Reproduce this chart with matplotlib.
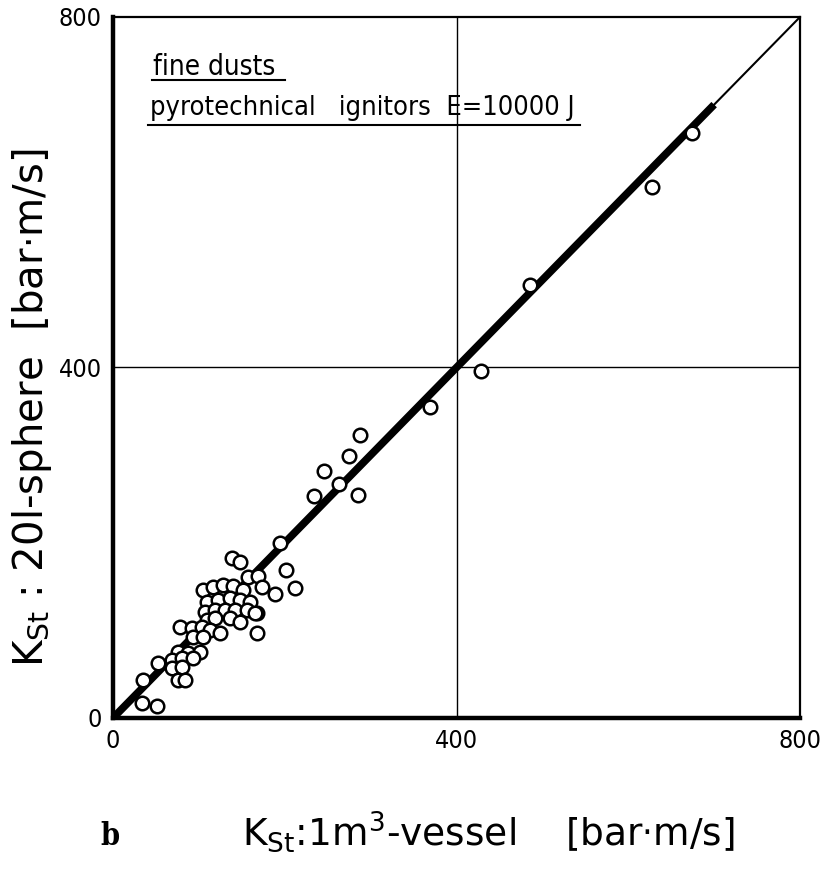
import matplotlib
matplotlib.use('Agg')
import matplotlib.pyplot as plt

# K_St values of the fine dusts: 1 m^3 vessel (x) vs 20 l sphere (y), bar*m/s
kst_1m3 = [674, 628, 486, 428, 369, 288, 275, 246, 263, 285, 234,
           195, 201, 212, 189, 139, 148, 157, 169, 174, 168, 168,
           105, 116, 128, 140, 151, 109, 122, 136, 148, 160,
           107, 119, 130, 142, 156, 165, 109, 119, 136, 148,
           78, 92, 104, 113, 125, 93, 105,
           76, 87, 101, 69, 80, 93, 52, 69, 80, 76, 84, 35, 34, 51]
kst_20l = [668, 606, 494, 396, 355, 323, 299, 282, 267, 254, 253,
           200, 169, 148, 142, 183, 178, 161, 162, 150, 120, 97,
           146, 150, 152, 151, 146, 132, 135, 137, 135, 132,
           121, 123, 123, 123, 123, 120, 112, 114, 114, 110,
           104, 103, 104, 100, 97, 92, 92,
           75, 74, 75, 66, 68, 68, 63, 57, 58, 43, 43, 43, 17, 14]

ticks = [0, 400, 800]

plt.rcParams['font.family'] = 'DejaVu Sans'
plt.rcParams['font.stretch'] = 'condensed'

fig = plt.figure(figsize=(8.33, 8.76), dpi=100)
ax = fig.add_axes([0.1357, 0.1804, 0.8247, 0.8002])

# 1:1 line, drawn heavy up to 700 then thin to the corner
ax.plot([0, 700], [0, 700], color='black', lw=5.5, solid_capstyle='butt', zorder=3)
ax.plot([700, 800], [700, 800], color='black', lw=1.5, zorder=3)

ax.scatter(kst_1m3, kst_20l, s=95, facecolors='white', edgecolors='black',
           linewidths=1.8, zorder=4)

ax.axvline(400, color='black', lw=1.0, zorder=1)
ax.axhline(400, color='black', lw=1.0, zorder=1)

ax.set_xlim(0, 800)
ax.set_ylim(0, 800)
ax.set_xticks(ticks)
ax.set_yticks(ticks)
ax.tick_params(length=0, labelsize=18, pad=8)
for sp in ['left', 'bottom']:
    ax.spines[sp].set_linewidth(3.2)
for sp in ['top', 'right']:
    ax.spines[sp].set_linewidth(1.6)

# title block in the upper left corner
ax.text(47, 734, 'fine dusts', fontsize=20)
ax.plot([45, 200], [728, 728], color='black', lw=1.5)
ax.text(43, 688, 'pyrotechnical   ignitors  E=10000 J', fontsize=19.5)
ax.plot([41, 544], [677, 677], color='black', lw=1.5)

fig.text(0.038, 0.535, r'K$\mathregular{_{St}}$ : 20l-sphere  [bar$\cdot$m/s]',
         fontsize=29, fontstretch='normal', rotation=90, ha='center', va='center')
fig.text(0.29, 0.035, r'K$\mathregular{_{St}}$:1m$\mathregular{^3}$-vessel    [bar$\cdot$m/s]',
         fontsize=27, fontstretch='normal')
fig.text(0.12, 0.035, 'b', fontsize=22, fontweight='bold', family='DejaVu Serif')

fig.savefig('out.png', dpi=100)
